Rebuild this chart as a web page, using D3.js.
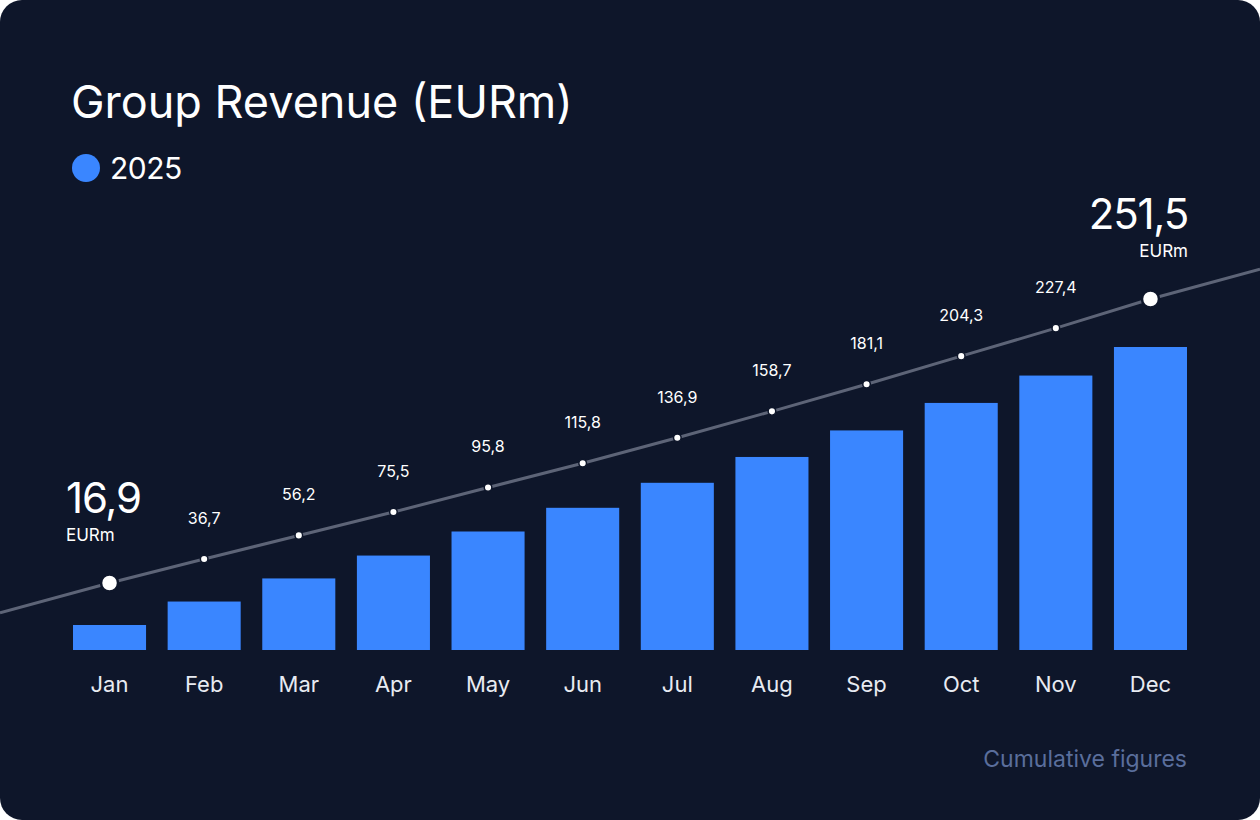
<!DOCTYPE html>
<head>
  <meta charset="utf-8">
  <title>Group Revenue</title>
  <script src="https://cdn.jsdelivr.net/npm/d3@7"></script>
  <style>
    body { margin: 0; background: #ffffff; }
    svg { display: block; }
  </style>
</head>

<body>
  <script type="text/javascript">
    var WIDTH = 1260;
    var HEIGHT = 820;

    // data
    var months = ["Jan", "Feb", "Mar", "Apr", "May", "Jun", "Jul", "Aug", "Sep", "Oct", "Nov", "Dec"];
    var revenue = [16.9, 36.7, 56.2, 75.5, 95.8, 115.8, 136.9, 158.7, 181.1, 204.3, 227.4, 251.5];
    var seriesName = "2025";
    var unit = "EURm";

    var fmt = function(v){ return d3.format(".1f")(v).replace(".", ","); };
    var FONT = "Inter, 'Noto Sans', sans-serif";

    var svg = d3.select("body").append("svg")
                .attr("width", WIDTH)
                .attr("height", HEIGHT);

    // card
    svg.append("rect")
       .attr("width", WIDTH).attr("height", HEIGHT)
       .attr("rx", 22).attr("ry", 22)
       .attr("fill", "#0e162a");

    // title + legend
    svg.append("text")
       .attr("x", 71).attr("y", 118)
       .attr("font-family", FONT).attr("font-size", 45)
       .attr("fill", "#ffffff")
       .text("Group Revenue (" + unit + ")");

    svg.append("circle")
       .attr("cx", 86).attr("cy", 168).attr("r", 14)
       .attr("fill", "#3a86ff");
    svg.append("text")
       .attr("x", 110).attr("y", 179)
       .attr("font-family", FONT).attr("font-size", 30)
       .attr("letter-spacing", -0.5)
       .attr("fill", "#ffffff")
       .text(seriesName);

    // scales
    var x = d3.scaleBand()
              .domain(months)
              .range([73, 1187])
              .paddingInner(0.228)
              .paddingOuter(0);

    var yBar = d3.scaleLinear()
                 .domain([-4.2, 251.5])
                 .range([650, 347]);

    var yLine = d3.scaleLinear()
                  .domain([16.9, 251.5])
                  .range([583, 299]);

    var cx = function(d, i){ return x(months[i]) + x.bandwidth() / 2; };

    // bars
    svg.append("g").selectAll("rect")
       .data(revenue)
       .enter().append("rect")
       .attr("x", function(d, i){ return x(months[i]); })
       .attr("y", function(d){ return yBar(d); })
       .attr("width", x.bandwidth())
       .attr("height", function(d){ return yBar(-4.2) - yBar(d); })
       .attr("fill", "#3a86ff");

    // month labels
    svg.append("g").selectAll("text")
       .data(months)
       .enter().append("text")
       .attr("x", function(d){ return x(d) + x.bandwidth() / 2; })
       .attr("y", 692)
       .attr("text-anchor", "middle")
       .attr("font-family", FONT).attr("font-size", 22)
       .attr("fill", "#e8ebf2")
       .text(function(d){ return d; });

    // cumulative line, extended to card edges along the overall trend
    var pts = revenue.map(function(d, i){ return [cx(d, i), yLine(d)]; });
    var first = pts[0], last = pts[pts.length - 1];
    var slope = (last[1] - first[1]) / (last[0] - first[0]);
    var linePts = [[0, first[1] - slope * first[0]]]
                    .concat(pts)
                    .concat([[WIDTH, last[1] + slope * (WIDTH - last[0])]]);

    svg.append("path")
       .attr("d", d3.line()(linePts))
       .attr("fill", "none")
       .attr("stroke", "#5d6477")
       .attr("stroke-width", 3);

    // dots
    var n = revenue.length;
    svg.append("g").selectAll("circle")
       .data(revenue)
       .enter().append("circle")
       .attr("cx", cx)
       .attr("cy", function(d){ return yLine(d); })
       .attr("r", function(d, i){ return (i === 0 || i === n - 1) ? 8.5 : 3.8; })
       .attr("fill", "#ffffff")
       .attr("stroke", "#0e162a")
       .attr("stroke-width", function(d, i){ return (i === 0 || i === n - 1) ? 2.5 : 1.5; });

    // small value labels
    svg.append("g").selectAll("text")
       .data(revenue.slice(1, n - 1))
       .enter().append("text")
       .attr("x", function(d, i){ return cx(d, i + 1); })
       .attr("y", function(d){ return yLine(d) - 35; })
       .attr("text-anchor", "middle")
       .attr("font-family", FONT).attr("font-size", 16)
       .attr("fill", "#ffffff")
       .text(fmt);

    // big end labels
    var ends = [
      { v: revenue[0], x: x(months[0]) - 7, anchor: "start" },
      { v: revenue[n - 1], x: x(months[n - 1]) + x.bandwidth() + 1, anchor: "end" }
    ];
    var endG = svg.append("g").selectAll("g")
                  .data(ends)
                  .enter().append("g");
    endG.append("text")
        .attr("x", function(d){ return d.x; })
        .attr("y", function(d){ return yLine(d.v) - 70; })
        .attr("text-anchor", function(d){ return d.anchor; })
        .attr("font-family", FONT).attr("font-size", 42)
        .attr("letter-spacing", -1.2)
        .attr("fill", "#ffffff")
        .text(function(d){ return fmt(d.v); });
    endG.append("text")
        .attr("x", function(d){ return d.x; })
        .attr("y", function(d){ return yLine(d.v) - 42; })
        .attr("text-anchor", function(d){ return d.anchor; })
        .attr("font-family", FONT).attr("font-size", 17)
        .attr("fill", "#ffffff")
        .text(unit);

    // footnote
    svg.append("text")
       .attr("x", 1187).attr("y", 767)
       .attr("text-anchor", "end")
       .attr("font-family", FONT).attr("font-size", 23)
       .attr("fill", "#5a6e9c")
       .text("Cumulative figures");
  </script>
</body>
